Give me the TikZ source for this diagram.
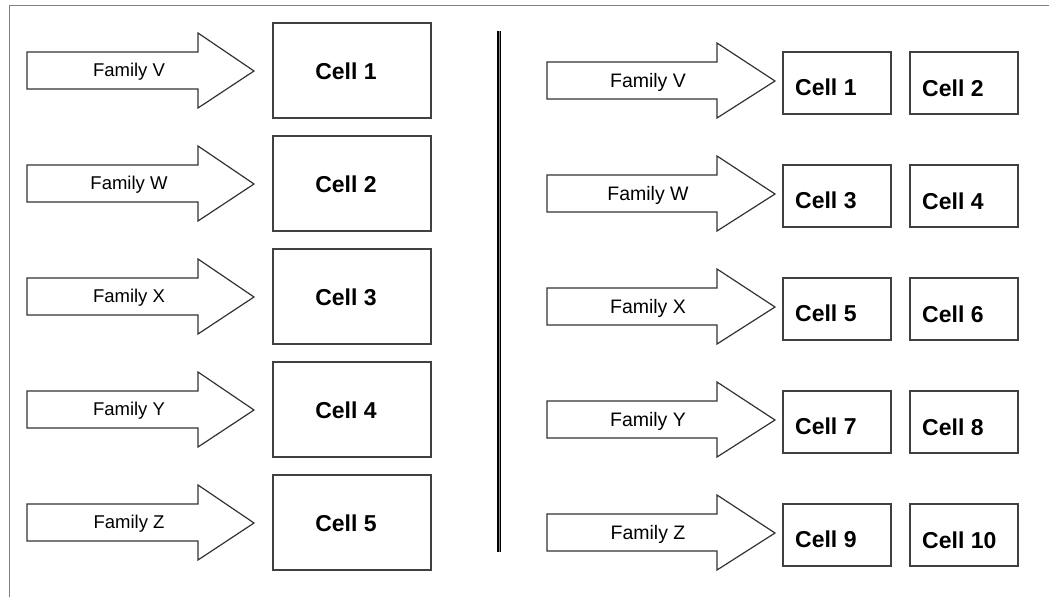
\documentclass[tikz,border=0pt]{standalone}
\usepackage{fontspec}
\setmainfont{Liberation Sans}
\begin{document}
\begin{tikzpicture}[x=1pt,y=-1pt,
  arrowshape/.style={draw=black!80, line width=1.2pt, fill=white, line join=miter},
  cellbox/.style={draw=black!75, line width=1.4pt, fill=white},
  famlabel/.style={font=\fontsize{18.5}{20}\selectfont, inner sep=0pt},
  rfamlabel/.style={font=\fontsize{19.5}{21}\selectfont, inner sep=0pt},
  celllabel/.style={font=\fontsize{23}{25}\selectfont\bfseries, inner sep=0pt},
  frameline/.style={draw=black!50, line width=1pt}]
\useasboundingbox (0,0) rectangle (1049,597);
% frame lines
\draw[frameline] (9.5,597) -- (9.5,5) -- (1049,5);
% divider
\draw[line width=1.6pt, double=black!45, double distance=0.9pt] (499,31) -- (499,552);
% left column
\foreach \f [count=\i from 0] in {V,W,X,Y,Z}{
  \pgfmathsetmacro{\cy}{71+113*\i}
  \draw[arrowshape] (27,\cy-19) -- (198,\cy-19) -- (198,\cy-38) -- (254,\cy) -- (198,\cy+37) -- (198,\cy+18) -- (27,\cy+18) -- cycle;
  \node[famlabel] (lf\i) at (129,\cy+1) {Family \f};
  \pgfmathtruncatemacro{\c}{\i+1}
  \draw[cellbox] (273,\cy-48) rectangle (431,\cy+47);
  \node[celllabel] (lc\i) at (346,\cy) {Cell \c};
}
% right column
\foreach \f [count=\i from 0] in {V,W,X,Y,Z}{
  \pgfmathsetmacro{\cy}{81+113*\i}
  \draw[arrowshape] (547,\cy-19) -- (717,\cy-19) -- (717,\cy-38) -- (775,\cy) -- (717,\cy+37) -- (717,\cy+18) -- (547,\cy+18) -- cycle;
  \node[rfamlabel] (rf\i) at (648,\cy+1) {Family \f};
  \pgfmathtruncatemacro{\ca}{2*\i+1}
  \pgfmathtruncatemacro{\cb}{2*\i+2}
  \draw[cellbox] (783,\cy-29) rectangle (891,\cy+33);
  \draw[cellbox] (910,\cy-29) rectangle (1018,\cy+33);
  \node[celllabel, anchor=west] (ra\i) at (795,\cy+6) {Cell \ca};
  \node[celllabel, anchor=west] (rb\i) at (922,\cy+7) {Cell \cb};
}
\end{tikzpicture}
\end{document}
